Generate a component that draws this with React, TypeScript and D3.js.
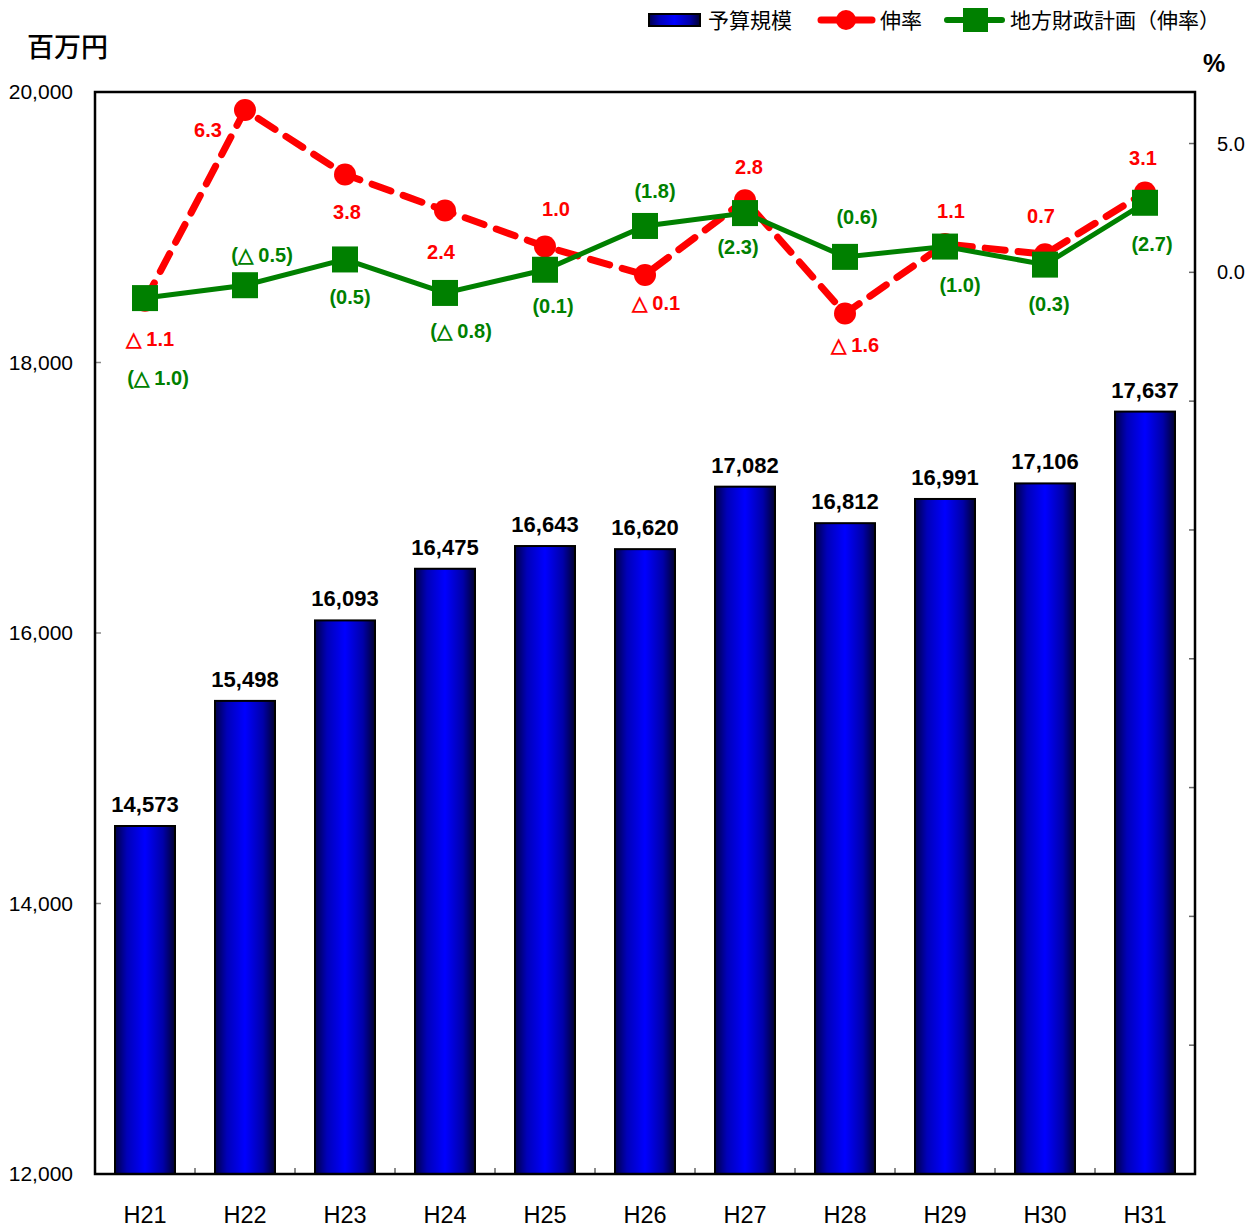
import * as d3 from "d3";

const years = ["H21", "H22", "H23", "H24", "H25", "H26", "H27", "H28", "H29", "H30", "H31"];
const budget = [14573, 15498, 16093, 16475, 16643, 16620, 17082, 16812, 16991, 17106, 17637];
const growth = [-1.1, 6.3, 3.8, 2.4, 1.0, -0.1, 2.8, -1.6, 1.1, 0.7, 3.1];
const planGrowth = [-1.0, -0.5, 0.5, -0.8, 0.1, 1.8, 2.3, 0.6, 1.0, 0.3, 2.7];
const leftTicks = [12000, 14000, 16000, 18000, 20000];
const rightTicks = [-30, -25, -20, -15, -10, -5, 0, 5];
const rightTickLabels = [0, 5];

// label placement (offset from the marker)
const growthLabelOffsets = [
  [5, 38], [-37, 20], [2, 38], [-4, 41], [11, -38], [11, 28],
  [4, -33], [10, 31], [6, -33], [-4, -38], [-2, -34],
];
const planLabelOffsets = [
  [13, 80], [17, -30], [5, 38], [16, 38], [8, 36], [10, -35],
  [-7, 34], [12, -40], [15, 38], [4, 39], [7, 41],
];

const W = 1255;
const H = 1229;
const left = 95;
const right = 1195;
const top = 92;
const bottom = 1174;

const sans = "'Liberation Sans', Arial, sans-serif";
const jp = "'Noto Sans CJK JP', sans-serif";

const fmtRate = (v: number) => (v < 0 ? `△ ${Math.abs(v).toFixed(1)}` : v.toFixed(1));

export default function App() {
  const x = d3.scaleBand<string>().domain(years).range([left, right]).paddingInner(0.4).paddingOuter(0.2);
  const y = d3.scaleLinear().domain([12000, 20000]).range([bottom, top]);
  const yR = d3.scaleLinear().domain([-35, 7]).range([bottom, top]);
  const cx = (i: number) => (x(years[i]) as number) + x.bandwidth() / 2;
  const fmt = d3.format(",");

  const line = d3
    .line<number>()
    .x((_, i) => cx(i))
    .y((d) => yR(d));

  return (
    <svg width={W} height={H} style={{ position: "absolute", left: 0, top: 0, background: "#fff" }}>
      <defs>
        <linearGradient id="barGrad" x1="0" x2="1" y1="0" y2="0">
          <stop offset="0" stopColor="#000048" />
          <stop offset="0.2" stopColor="#0000b8" />
          <stop offset="0.5" stopColor="#0000ff" />
          <stop offset="0.8" stopColor="#0000a8" />
          <stop offset="1" stopColor="#000030" />
        </linearGradient>
      </defs>

      {/* bars */}
      {budget.map((v, i) => (
        <g key={years[i]}>
          <rect
            x={x(years[i])}
            y={y(v)}
            width={x.bandwidth()}
            height={bottom - y(v)}
            fill="url(#barGrad)"
            stroke="#000"
            strokeWidth={2}
          />
          <text
            x={cx(i)}
            y={y(v) - 14}
            textAnchor="middle"
            fontFamily={sans}
            fontWeight="bold"
            fontSize={22}
          >
            {fmt(v)}
          </text>
        </g>
      ))}

      {/* left ticks */}
      {leftTicks.map((t) => (
        <g key={t}>
          <line x1={left} x2={left + 6} y1={y(t)} y2={y(t)} stroke="#888" strokeWidth={1.5} />
          <text x={73} y={y(t)} dy="0.35em" textAnchor="end" fontFamily={sans} fontSize={21}>
            {fmt(t)}
          </text>
        </g>
      ))}

      {/* right ticks */}
      {rightTicks.map((t) => (
        <g key={t}>
          <line x1={right - 6} x2={right} y1={yR(t)} y2={yR(t)} stroke="#666" strokeWidth={1.5} />
          {rightTickLabels.includes(t) && (
            <text x={1217} y={yR(t)} dy="0.35em" fontFamily={sans} fontSize={20}>
              {t.toFixed(1)}
            </text>
          )}
        </g>
      ))}

      {/* category ticks */}
      {years.slice(1).map((yr) => (
        <line
          key={yr}
          x1={(x(yr) as number) - 20}
          x2={(x(yr) as number) - 20}
          y1={bottom}
          y2={bottom - 6}
          stroke="#666"
          strokeWidth={1.5}
        />
      ))}
      {years.map((yr, i) => (
        <text key={yr} x={cx(i)} y={1223} textAnchor="middle" fontFamily={sans} fontSize={23.5}>
          {yr}
        </text>
      ))}

      {/* frame */}
      <rect x={left} y={top} width={right - left} height={bottom - top} fill="none" stroke="#000" strokeWidth={2.5} />

      {/* growth line */}
      <path
        d={line(growth) as string}
        fill="none"
        stroke="#ff0000"
        strokeWidth={7}
        strokeDasharray="20 13"
        strokeLinecap="round"
      />
      {growth.map((v, i) => (
        <circle key={i} cx={cx(i)} cy={yR(v)} r={11} fill="#ff0000" />
      ))}

      {/* plan line */}
      <path d={line(planGrowth) as string} fill="none" stroke="#008000" strokeWidth={5} />
      {planGrowth.map((v, i) => (
        <rect key={i} x={cx(i) - 13} y={yR(v) - 13} width={26} height={26} fill="#008000" />
      ))}

      {/* labels */}
      {growth.map((v, i) => (
        <text
          key={i}
          x={cx(i) + growthLabelOffsets[i][0]}
          y={yR(v) + growthLabelOffsets[i][1]}
          dy="0.35em"
          textAnchor="middle"
          fontFamily={sans}
          fontWeight="bold"
          fontSize={20}
          fill="#ff0000"
        >
          {fmtRate(v)}
        </text>
      ))}
      {planGrowth.map((v, i) => (
        <text
          key={i}
          x={cx(i) + planLabelOffsets[i][0]}
          y={yR(v) + planLabelOffsets[i][1]}
          dy="0.35em"
          textAnchor="middle"
          fontFamily={sans}
          fontWeight="bold"
          fontSize={20}
          fill="#008000"
        >
          {`(${fmtRate(v)})`}
        </text>
      ))}

      {/* units */}
      <text x={27} y={57} fontFamily={jp} fontSize={27} fontWeight={500}>
        百万円
      </text>
      <text x={1203} y={72} fontFamily={sans} fontSize={25} fontWeight="bold">
        %
      </text>

      {/* legend */}
      <rect x={649} y={14} width={51} height={12} fill="url(#barGrad)" stroke="#000" strokeWidth={2} />
      <text x={708} y={21} dy="0.35em" fontFamily={jp} fontSize={21}>
        予算規模
      </text>
      <line x1={821} x2={872} y1={20} y2={20} stroke="#ff0000" strokeWidth={7} strokeLinecap="round" />
      <circle cx={846} cy={20} r={10} fill="#ff0000" />
      <text x={880} y={21} dy="0.35em" fontFamily={jp} fontSize={21}>
        伸率
      </text>
      <line x1={947} x2={1002} y1={20} y2={20} stroke="#008000" strokeWidth={6} strokeLinecap="round" />
      <rect x={963} y={8} width={25} height={24} fill="#008000" />
      <text x={1010} y={21} dy="0.35em" fontFamily={jp} fontSize={21}>
        地方財政計画（伸率）
      </text>
    </svg>
  );
}
